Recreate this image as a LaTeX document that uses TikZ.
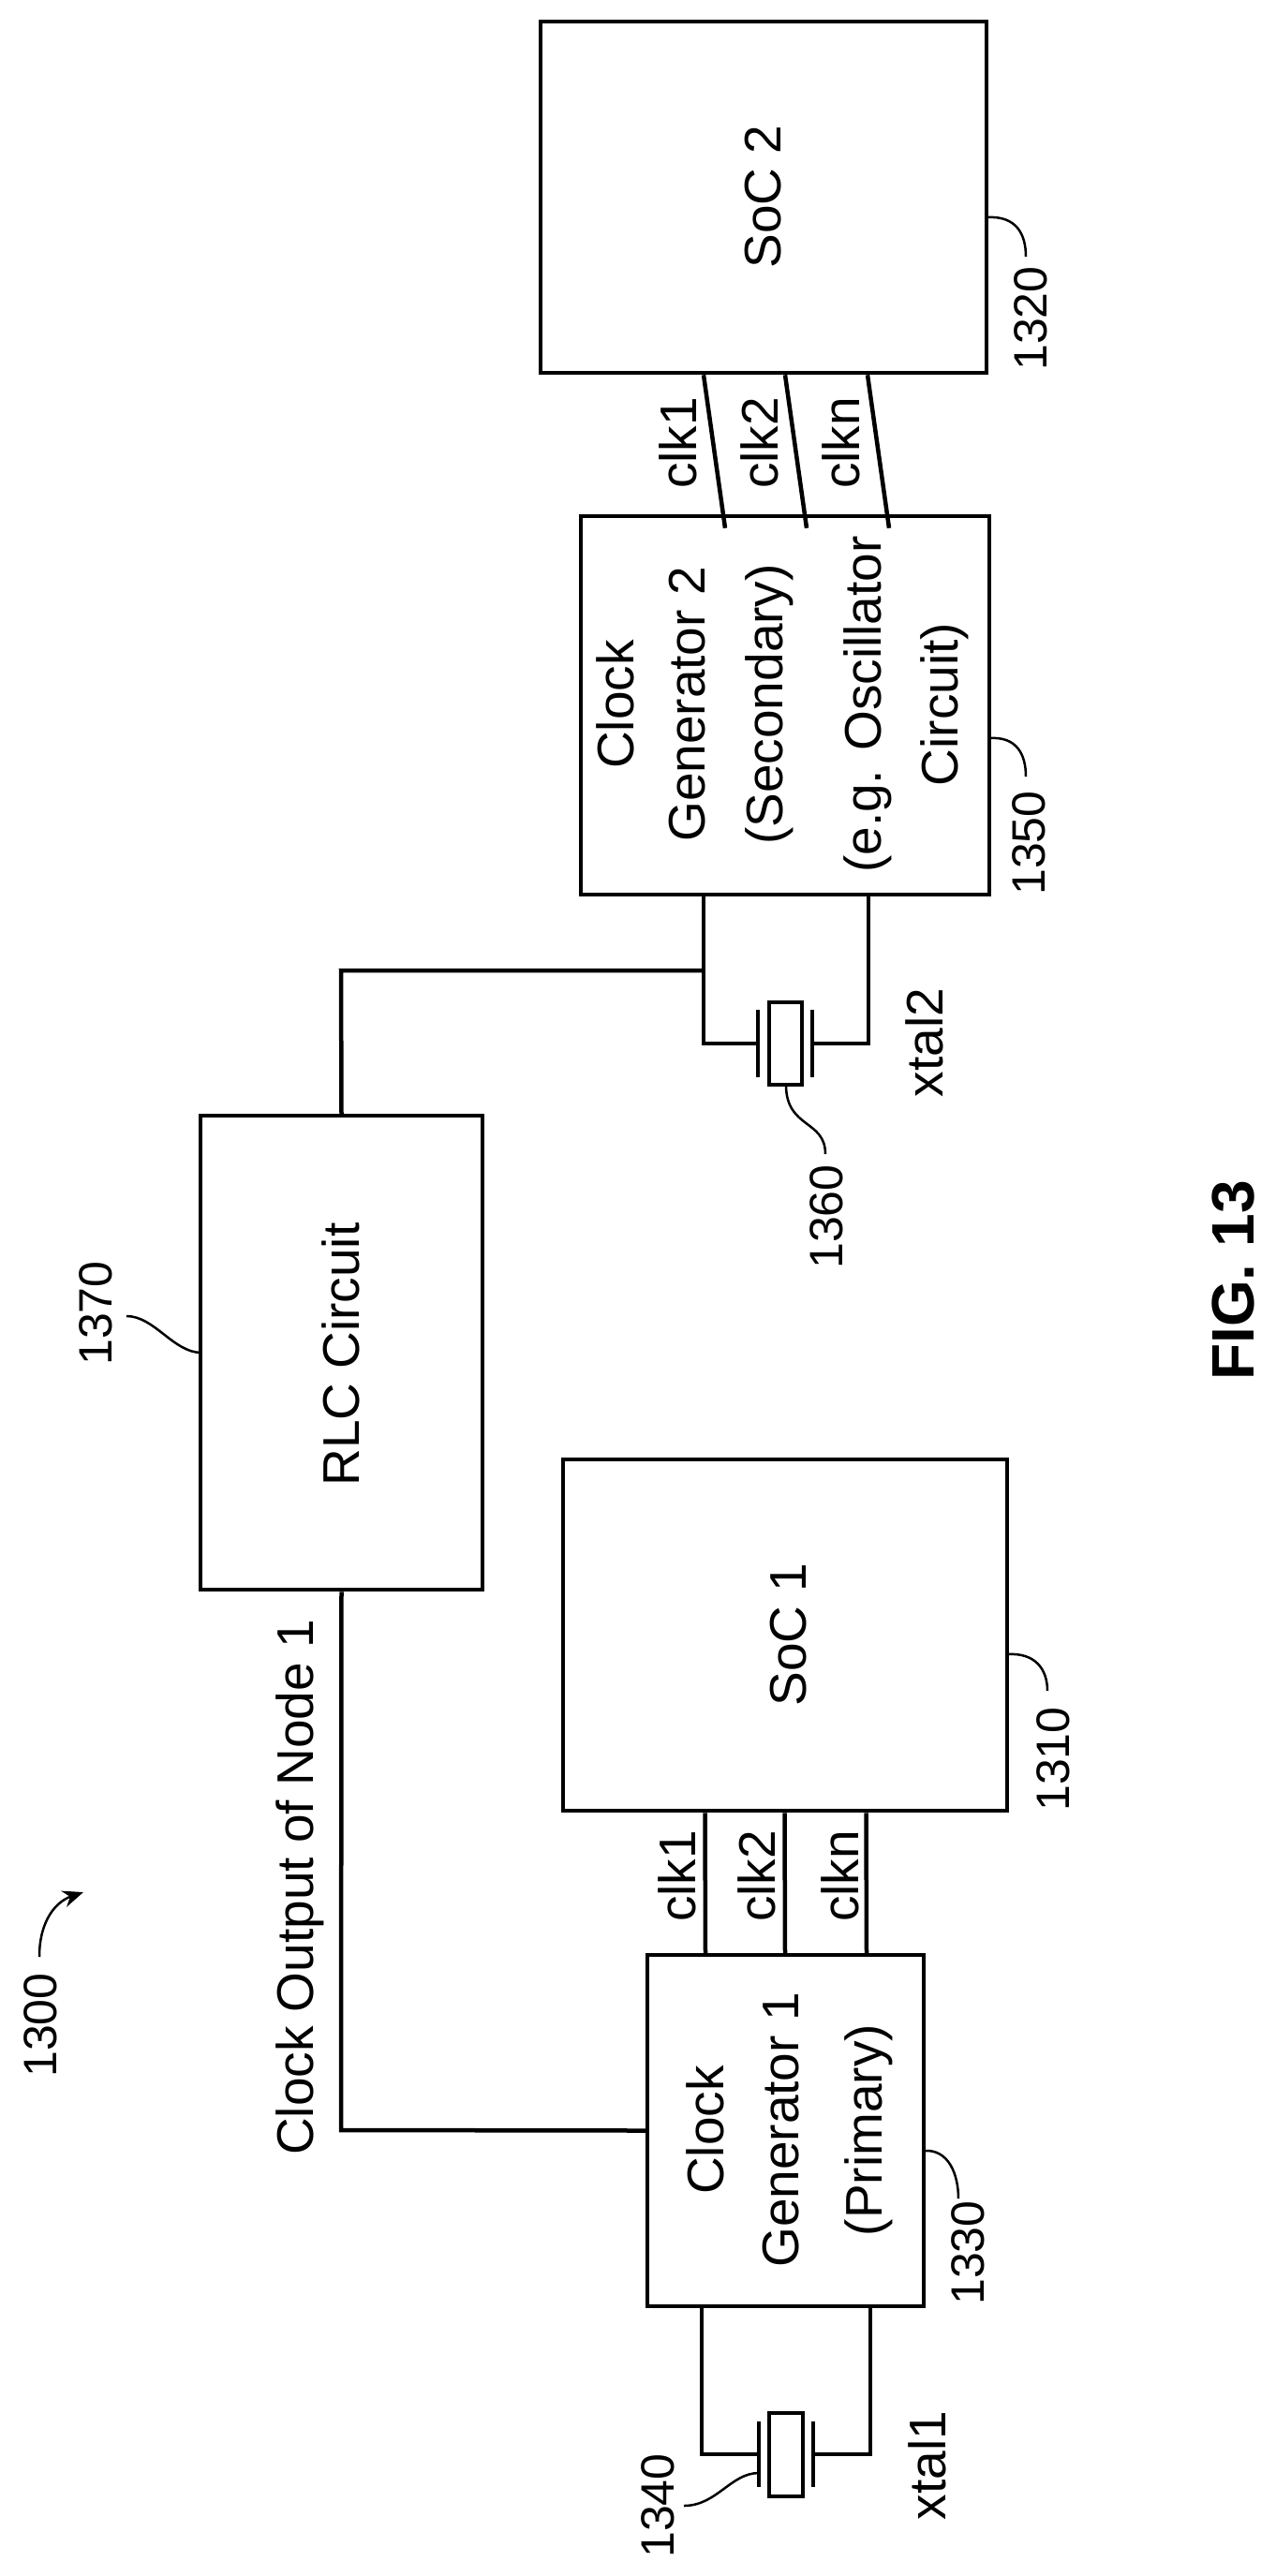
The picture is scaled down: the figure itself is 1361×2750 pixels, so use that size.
\documentclass[tikz,border=0pt]{standalone}
\usepackage{fontspec}
\setmainfont{Liberation Sans}
\usetikzlibrary{arrows.meta}
\begin{document}
\begin{tikzpicture}[x=1pt,y=-1pt,
  box/.style={draw,line width=4.5pt,inner sep=0pt},
  wire/.style={line width=4.5pt},
  lead/.style={line width=2.5pt},
  txt/.style={rotate=90,inner sep=0pt,font=\fontsize{55}{64}\selectfont},
  ref/.style={rotate=90,inner sep=0pt,font=\fontsize{50}{58}\selectfont}]
\useasboundingbox (0,0) rectangle (1361,2750);
\fill[white] (0,0) rectangle (1361,2750);
% boxes
\node[box,minimum width=476pt,minimum height=375pt] (soc2) at (815,210.5) {};
\node[box,minimum width=436pt,minimum height=404pt] (cg2) at (838,753) {};
\node[box,minimum width=301pt,minimum height=506pt] (rlc) at (364.5,1444) {};
\node[box,minimum width=474pt,minimum height=375pt] (soc1) at (838,1745.5) {};
\node[box,minimum width=295pt,minimum height=375pt] (cg1) at (838.5,2274.5) {};
% box texts
\node[txt] (tsoc2) at (815,210) {SoC 2};
\node[txt] (tcg2a) at (657,752) {Clock};
\node[txt] (tcg2b) at (734,752) {Generator 2};
\node[txt] (tcg2c) at (821,752) {(Secondary)};
\node[txt] (tcg2d) at (926,752) {(e.g. Oscillator};
\node[txt] (tcg2e) at (1008,752) {Circuit)};
\node[txt] (trlc) at (364,1446) {RLC Circuit};
\node[txt] (tsoc1) at (842,1745) {SoC 1};
\node[txt] (tcg1a) at (753,2274) {Clock};
\node[txt] (tcg1b) at (834,2274) {Generator 1};
\node[txt] (tcg1c) at (927,2274) {(Primary)};
% clk lines top
\foreach \dx in {-64,23,111}{
  \draw[wire] ([xshift=\dx pt]soc2.south) -- ([xshift=\dx pt,yshift=-15pt]cg2.north);
}
\foreach \dx in {-85.5,-0.5,86.5}{
  \draw[wire] ([xshift=\dx pt]soc1.south) -- ([xshift=\dx pt]cg1.north);
}
\node[txt] (c21) at (724,473) {clk1};
\node[txt] (c22) at (811,473) {clk2};
\node[txt] (c2n) at (898,473) {clkn};
\node[txt] (c11) at (723,2003) {clk1};
\node[txt] (c12) at (808,2003) {clk2};
\node[txt] (c1n) at (897,2003) {clkn};
% crystal 2
\coordinate (j2) at (751,1036);
\draw[wire] ([xshift=-87pt]cg2.south) -- (751,1114) -- (809,1114);
\draw[wire] ([xshift=89pt]cg2.south) -- (927,1114) -- (867,1114);
\draw[wire] (809,1078) -- (809,1150);
\draw[wire] (867,1078) -- (867,1150);
\draw[wire] (821,1070) rectangle (856,1158);
\draw[wire] (j2) -- (364,1036) -- (rlc.north);
% crystal 1
\draw[wire] ([xshift=-89.5pt]cg1.south) -- (749,2620) -- (810,2620);
\draw[wire] ([xshift=90.5pt]cg1.south) -- (929,2620) -- (868,2620);
\draw[wire] (810,2585) -- (810,2655);
\draw[wire] (868,2585) -- (868,2655);
\draw[wire] (821,2576) rectangle (857,2665);
% clock output
\draw[wire] (rlc.south) -- (364,2274) -- (cg1.west);
\node[txt] (tco) at (320,2015) {Clock Output of Node 1};
% refs
\node[ref] (r1320) at (1100,340) {1320};
\node[ref] (r1350) at (1098,900) {1350};
\node[ref] (r1360) at (882,1299) {1360};
\node[ref] (r1370) at (102,1402) {1370};
\node[ref] (r1310) at (1124,1878) {1310};
\node[ref] (r1330) at (1033,2405) {1330};
\node[ref] (r1340) at (702,2675) {1340};
\node[ref] (r1300) at (43,2162) {1300};
\node[txt] (x2) at (987,1113) {xtal2};
\node[txt] (x1) at (990,2632) {xtal1};
\node[rotate=90,inner sep=0pt,font=\fontsize{64}{70}\selectfont\bfseries] (fig) at (1317,1367) {FIG. 13};
% leaders
\draw[lead] (1053,232) .. controls (1085,230) and (1095,250) .. (1095,274);
\draw[lead] (1056,788) .. controls (1085,786) and (1095,805) .. (1095,829);
\draw[lead] (1075,1766) .. controls (1105,1764) and (1118,1782) .. (1118,1805);
\draw[lead] (986,2296) .. controls (1013,2294) and (1023,2322) .. (1023,2347);
\draw[lead] (215,1444) .. controls (185,1444) and (165,1405) .. (135,1405);
\draw[lead] (839,1158) .. controls (839,1205) and (881,1195) .. (881,1232);
\draw[lead] (810,2640) .. controls (780,2640) and (765,2675) .. (730,2675);
\draw[lead,-{Stealth[length=22pt,width=18pt]}] (42,2089) .. controls (42,2050) and (60,2030) .. (89,2020);
\end{tikzpicture}
\end{document}
